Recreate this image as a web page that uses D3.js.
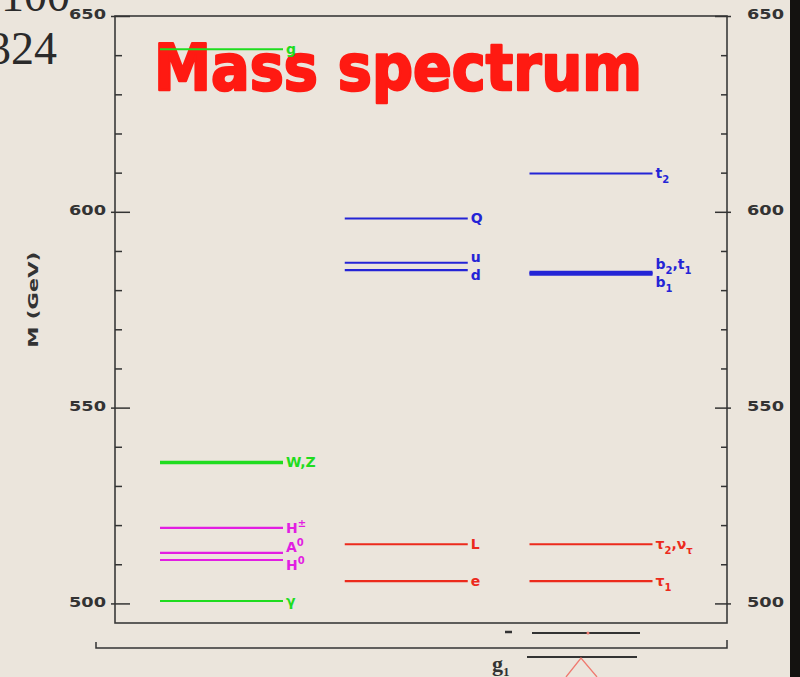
<!DOCTYPE html>
<html>
<head>
<meta charset="utf-8">
<script src="https://cdn.jsdelivr.net/npm/d3@7"></script>
<style>
  html, body { margin: 0; padding: 0; background: #ebe5dc; overflow: hidden; }
  svg { display: block; }
</style>
</head>
<body>
<svg id="chart" width="800" height="677"></svg>
<script>
// ---- data -------------------------------------------------------------
const columns = ["gauge & Higgs", "light KK fermions", "third generation"];

const levelNames   = ["g", "WZ", "Hpm", "A0", "H0", "gamma",
                      "Q", "u", "d", "L", "e",
                      "t2", "b2", "t1", "b1", "tau2", "tau1"];
const levelMasses  = [641.5, 536.0, 519.3, 512.9, 511.1, 500.6,
                      598.3, 587.0, 585.1, 515.1, 505.7,
                      609.8, 584.6, 584.3, 584.0, 515.1, 505.7];
const levelColumns = ["gauge & Higgs", "gauge & Higgs", "gauge & Higgs", "gauge & Higgs", "gauge & Higgs", "gauge & Higgs",
                      "light KK fermions", "light KK fermions", "light KK fermions", "light KK fermions", "light KK fermions",
                      "third generation", "third generation", "third generation", "third generation", "third generation", "third generation"];
const levelKinds   = ["boson", "boson", "higgs", "higgs", "higgs", "boson",
                      "quark", "quark", "quark", "lepton", "lepton",
                      "quark", "quark", "quark", "quark", "lepton", "lepton"];
// "_x" = subscript, "^x" = superscript, "" = shares the label above
const levelLabels  = ["g", "W,Z", "H^±", "A^0", "H^0", "γ",
                      "Q", "u", "d", "L", "e",
                      "t_2", "b_2,t_1", "", "b_1", "τ_2,ν_τ", "τ_1"];

const majorTicks = [500, 550, 600, 650];
const minorTicks = [510, 520, 530, 540, 560, 570, 580, 590, 610, 620, 630, 640];
const massDomain = [495, 650];
const axisTitle = "M (GeV)";
const chartTitle = "Mass spectrum";

const levels = levelNames.map((n, i) => ({
  name: n, mass: levelMasses[i], column: levelColumns[i],
  kind: levelKinds[i], label: levelLabels[i]
}));

// ---- layout & style ---------------------------------------------------
const W = 800, H = 677;
const frame = { left: 115, right: 727, top: 16, bottom: 623 };
const kindColor = { boson: "#1fdc1f", higgs: "#e21ee2", quark: "#2424d6", lepton: "#ec2a1c" };
const thickLevels = { WZ: 3.6, b2: 2.6, t1: 2.6, b1: 2.6 };
const halfLen = 61.5;

const svg = d3.select("#chart");
svg.append("rect").attr("width", W).attr("height", H).attr("fill", "#ebe5dc");

const y = d3.scaleLinear().domain(massDomain).range([frame.bottom, frame.top]);
const x = d3.scalePoint().domain(columns).range([221.5, 591]);

// stray text at the upper left
const serif = svg.append("g").attr("font-family", "Liberation Serif, serif").attr("fill", "#2a2a2a").attr("font-size", 46);
serif.append("text").attr("x", -22).attr("y", 11).text("2100");
serif.append("text").attr("x", -12).attr("y", 64).text("324");

// title (under the levels)
svg.append("text")
  .attr("x", 154).attr("y", 90)
  .attr("font-family", "DejaVu Sans, sans-serif")
  .attr("font-weight", "bold")
  .attr("font-size", 64)
  .attr("textLength", 488).attr("lengthAdjust", "spacingAndGlyphs")
  .attr("fill", "#ff1a12")
  .attr("stroke", "#ff1a12").attr("stroke-width", 2.5).attr("stroke-linejoin", "round")
  .text(chartTitle);

// frame
svg.append("rect")
  .attr("x", frame.left).attr("y", frame.top)
  .attr("width", frame.right - frame.left).attr("height", frame.bottom - frame.top)
  .attr("fill", "none").attr("stroke", "#3a3a3a").attr("stroke-width", 1.6);

// axes
const tickFont = g => g.selectAll("text")
  .attr("font-family", "DejaVu Sans, sans-serif")
  .attr("font-weight", "bold")
  .attr("font-size", 14)
  .attr("fill", "#333")
  .attr("textLength", 37).attr("lengthAdjust", "spacingAndGlyphs");

const leftMajor = svg.append("g").attr("transform", `translate(${frame.left},0)`)
  .call(d3.axisLeft(y).tickValues(majorTicks).tickSizeInner(-15).tickSizeOuter(0).tickPadding(9));
const leftMinor = svg.append("g").attr("transform", `translate(${frame.left},0)`)
  .call(d3.axisLeft(y).tickValues(minorTicks).tickSizeInner(-7).tickSizeOuter(0).tickFormat(""));
const rightMajor = svg.append("g").attr("transform", `translate(${frame.right},0)`)
  .call(d3.axisRight(y).tickValues(majorTicks).tickSizeInner(-12).tickSizeOuter(0).tickPadding(20));
const rightMinor = svg.append("g").attr("transform", `translate(${frame.right},0)`)
  .call(d3.axisRight(y).tickValues(minorTicks).tickSizeInner(-6).tickSizeOuter(0).tickFormat(""));

[leftMajor, leftMinor, rightMajor, rightMinor].forEach(g => {
  g.select(".domain").remove();
  g.selectAll("line").attr("stroke", "#333").attr("stroke-width", 1.5);
});
leftMajor.selectAll("line").attr("x1", -4);
rightMajor.selectAll("line").attr("x1", 4);
leftMajor.call(tickFont);
rightMajor.call(tickFont);
leftMajor.selectAll("text").attr("dy", "0.2em");
rightMajor.selectAll("text").attr("dy", "0.2em");

// axis title
svg.append("text")
  .attr("transform", `translate(38,${(y(600) + y(550)) / 2 - 10}) rotate(-90)`)
  .attr("text-anchor", "middle")
  .attr("font-family", "DejaVu Sans, sans-serif")
  .attr("font-weight", "bold")
  .attr("font-size", 14)
  .attr("fill", "#333")
  .attr("textLength", 96).attr("lengthAdjust", "spacingAndGlyphs")
  .text(axisTitle);

// levels
svg.append("g").selectAll("line")
  .data(levels)
  .join("line")
  .attr("x1", d => x(d.column) - halfLen)
  .attr("x2", d => x(d.column) + halfLen)
  .attr("y1", d => y(d.mass))
  .attr("y2", d => y(d.mass))
  .attr("stroke", d => kindColor[d.kind])
  .attr("stroke-width", d => thickLevels[d.name] || 2.1);

// labels: spread apart levels that sit too close in one column
const labelGap = 18;
const labeled = levels.filter(d => d.label !== "").map(d => ({ ...d, ly: y(d.mass) }));
columns.forEach(c => {
  const col = labeled.filter(d => d.column === c).sort((a, b) => a.ly - b.ly);
  for (let iter = 0; iter < 50; iter++) {
    for (let i = 1; i < col.length; i++) {
      const gap = col[i].ly - col[i - 1].ly;
      if (gap < labelGap) {
        const push = (labelGap - gap) / 2;
        col[i - 1].ly -= push;
        col[i].ly += push;
      }
    }
  }
});

// split "b_2,t_1" style markup into runs with a vertical offset
function parseMarkup(str) {
  const runs = [];
  let i = 0;
  while (i < str.length) {
    const ch = str[i];
    if ((ch === "_" || ch === "^") && i + 1 < str.length) {
      runs.push({ text: str[i + 1], shift: ch === "_" ? 5 : -6, small: true });
      i += 2;
    } else {
      let j = i;
      while (j < str.length && str[j] !== "_" && str[j] !== "^") j++;
      runs.push({ text: str.slice(i, j), shift: 0, small: false });
      i = j;
    }
  }
  return runs;
}

const labelG = svg.append("g")
  .attr("font-family", "DejaVu Sans, sans-serif")
  .attr("font-weight", "bold")
  .attr("font-size", 14);
labeled.forEach(d => {
  const t = labelG.append("text")
    .attr("x", x(d.column) + halfLen + 3)
    .attr("y", d.ly)
    .attr("dy", "0.35em")
    .attr("fill", kindColor[d.kind]);
  let current = 0;
  parseMarkup(d.label).forEach(r => {
    const s = t.append("tspan").text(r.text);
    if (r.small) s.attr("font-size", 10);
    if (r.shift !== current) s.attr("dy", r.shift - current);
    current = r.shift;
  });
});

// lower bracket and leftover figure below the frame
const deco = svg.append("g").attr("fill", "none").attr("stroke", "#333").attr("stroke-width", 1.5);
deco.append("path").attr("d", "M96,642 V648 H727 V640");
deco.append("line").attr("x1", 532).attr("x2", 640).attr("y1", 633).attr("y2", 633).attr("stroke-width", 2.2);
deco.append("line").attr("x1", 505).attr("x2", 512).attr("y1", 632).attr("y2", 632).attr("stroke-width", 2.5);
deco.append("line").attr("x1", 527).attr("x2", 637).attr("y1", 657).attr("y2", 657).attr("stroke-width", 2.2);
svg.append("path").attr("d", "M566,677 L581,658 L597,677")
  .attr("fill", "none").attr("stroke", "#f07a70").attr("stroke-width", 1.3);
svg.append("circle").attr("cx", 588).attr("cy", 633).attr("r", 1.5).attr("fill", "#f07a70");
const g1 = svg.append("text").attr("x", 492).attr("y", 671)
  .attr("font-family", "Liberation Serif, serif").attr("font-weight", "bold")
  .attr("font-size", 22).attr("fill", "#333");
g1.append("tspan").text("g");
g1.append("tspan").attr("font-size", 13).attr("dy", 5).text("1");

// dark strip at the right edge
svg.append("rect").attr("x", 790).attr("y", 0).attr("width", 10).attr("height", H).attr("fill", "#141210");
</script>
</body>
</html>
